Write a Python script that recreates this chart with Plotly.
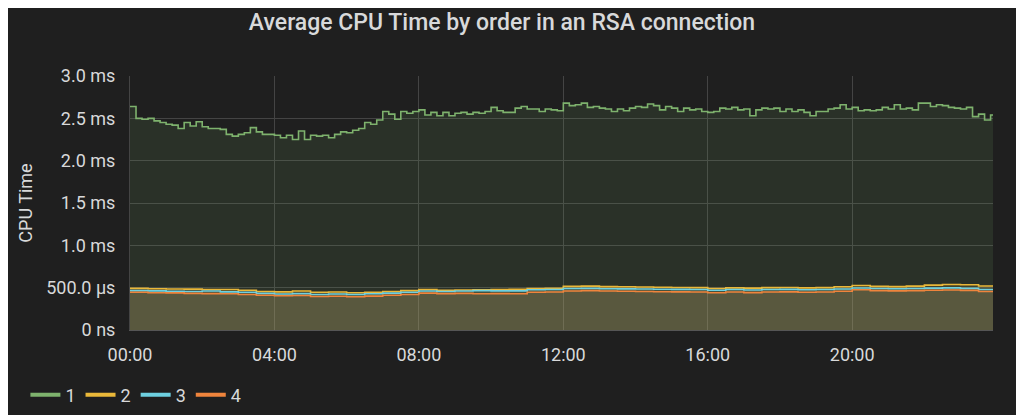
import numpy as np
import plotly.graph_objects as go

# hours since 00:00, 10 minute buckets for series 1
hours_1 = [i / 6 for i in range(144)] + [24.0]

# series 1, ms
order_1 = [
    2.64, 2.50, 2.49, 2.50, 2.47, 2.45, 2.43, 2.42, 2.38, 2.45,
    2.41, 2.46, 2.40, 2.38, 2.38, 2.37, 2.31, 2.29, 2.31, 2.33,
    2.39, 2.34, 2.31, 2.31, 2.30, 2.27, 2.30, 2.25, 2.35, 2.25,
    2.30, 2.29, 2.30, 2.27, 2.31, 2.34, 2.33, 2.36, 2.38, 2.45,
    2.43, 2.48, 2.58, 2.55, 2.49, 2.58, 2.56, 2.58, 2.60, 2.54,
    2.57, 2.53, 2.57, 2.53, 2.56, 2.57, 2.55, 2.57, 2.56, 2.58,
    2.63, 2.59, 2.57, 2.57, 2.62, 2.64, 2.61, 2.61, 2.58, 2.61,
    2.60, 2.59, 2.68, 2.65, 2.66, 2.68, 2.63, 2.64, 2.62, 2.61,
    2.58, 2.61, 2.59, 2.62, 2.64, 2.63, 2.67, 2.65, 2.60, 2.64,
    2.62, 2.58, 2.62, 2.60, 2.61, 2.58, 2.57, 2.58, 2.62, 2.61,
    2.63, 2.60, 2.61, 2.53, 2.60, 2.62, 2.61, 2.62, 2.58, 2.61,
    2.58, 2.60, 2.57, 2.53, 2.58, 2.58, 2.61, 2.62, 2.66, 2.61,
    2.63, 2.59, 2.60, 2.59, 2.60, 2.63, 2.61, 2.66, 2.61, 2.62,
    2.60, 2.68, 2.68, 2.64, 2.66, 2.65, 2.63, 2.62, 2.61, 2.63,
    2.52, 2.55, 2.48, 2.54, 2.54,
]

# half hour buckets for series 2-4
hours_2 = [i / 2 for i in range(48)] + [24.0]

# series 2-4, µs
order_2 = [
    492, 488, 485, 483, 478, 478, 470, 455, 450, 460, 445, 448,
    440, 445, 455, 465, 478, 470, 472, 475, 478, 480, 490, 492,
    515, 518, 512, 510, 508, 505, 502, 500, 490, 498, 495, 500,
    502, 498, 500, 510, 525, 515, 512, 518, 530, 538, 535, 520, 520,
]
order_3 = [
    465, 462, 458, 455, 460, 450, 445, 432, 425, 430, 420, 425,
    420, 428, 435, 445, 460, 455, 460, 465, 462, 462, 476, 478,
    490, 492, 488, 486, 485, 482, 480, 478, 470, 478, 472, 478,
    480, 476, 478, 485, 496, 490, 488, 490, 495, 498, 492, 478, 478,
]
order_4 = [
    445, 440, 438, 432, 430, 428, 420, 410, 405, 408, 395, 398,
    392, 400, 410, 420, 435, 430, 432, 428, 430, 428, 445, 448,
    460, 465, 460, 458, 455, 452, 450, 448, 440, 448, 442, 448,
    450, 446, 448, 458, 475, 465, 462, 465, 470, 472, 468, 455, 455,
]

y_ticks = [0, 0.5, 1.0, 1.5, 2.0, 2.5, 3.0]
y_tick_text = ["0 ns", "500.0 µs", "1.0 ms", "1.5 ms", "2.0 ms", "2.5 ms", "3.0 ms"]
x_ticks = [0, 4, 8, 12, 16, 20]
x_tick_text = ["00:00", "04:00", "08:00", "12:00", "16:00", "20:00"]

colors = {"1": "#7EB26D", "2": "#EAB839", "3": "#6ED0E0", "4": "#EF843C"}

def rgba(hex_color, a):
    h = hex_color.lstrip("#")
    return f"rgba({int(h[0:2], 16)},{int(h[2:4], 16)},{int(h[4:6], 16)},{a})"

series = [
    ("1", hours_1, order_1),
    ("2", hours_2, list(np.array(order_2) / 1000)),
    ("3", hours_2, list(np.array(order_3) / 1000)),
    ("4", hours_2, list(np.array(order_4) / 1000)),
]

fig = go.Figure()
for name, xs, ys in series:
    fig.add_trace(go.Scatter(
        x=xs, y=ys, mode="lines", line=dict(color=colors[name], width=1.6, shape="hv"),
        fill="tozeroy", fillcolor=rgba(colors[name], 0.12),
        name=name, showlegend=False, hoverinfo="skip",
    ))
# legend swatches as short thick lines
for name, _, _ in series:
    fig.add_trace(go.Scatter(
        x=[None], y=[None], mode="lines", line=dict(color=colors[name], width=4),
        name=name, showlegend=True,
    ))

# the page is drawn with an 8px offset, so margins are shifted to match
grid = "#444444"
fig.update_layout(
    width=1024, height=415,
    paper_bgcolor="#1f1f1f", plot_bgcolor="#1f1f1f",
    margin=dict(l=122, r=39, t=68, b=93),
    font=dict(family="Roboto", color="#d8d9da", size=18),
    title=dict(text="Average CPU Time by order in an RSA connection",
               x=494 / 1024, xanchor="center", y=1 - 14 / 415, yanchor="middle",
               font=dict(size=23, color="#d8d9da", family="Roboto", weight=500)),
    legend=dict(orientation="h", xref="container", yref="container",
                x=0.017, y=1 - 387 / 415, xanchor="left", yanchor="middle",
                font=dict(size=18), itemwidth=30, tracegroupgap=0),
    xaxis=dict(range=[0, 23.9], tickvals=x_ticks, ticktext=x_tick_text,
               showgrid=True, gridcolor=grid, gridwidth=1, zeroline=False,
               showline=True, linecolor="#555555", mirror=False,
               ticklabelstandoff=8, fixedrange=True),
    yaxis=dict(range=[0, 3.0], tickvals=y_ticks, ticktext=y_tick_text,
               showgrid=True, gridcolor=grid, gridwidth=1, zeroline=False,
               showline=True, linecolor="#444444",
               ticklabelstandoff=10,
               title=dict(text="CPU Time", standoff=8, font=dict(size=18))),
)

fig.write_html("out.html")
